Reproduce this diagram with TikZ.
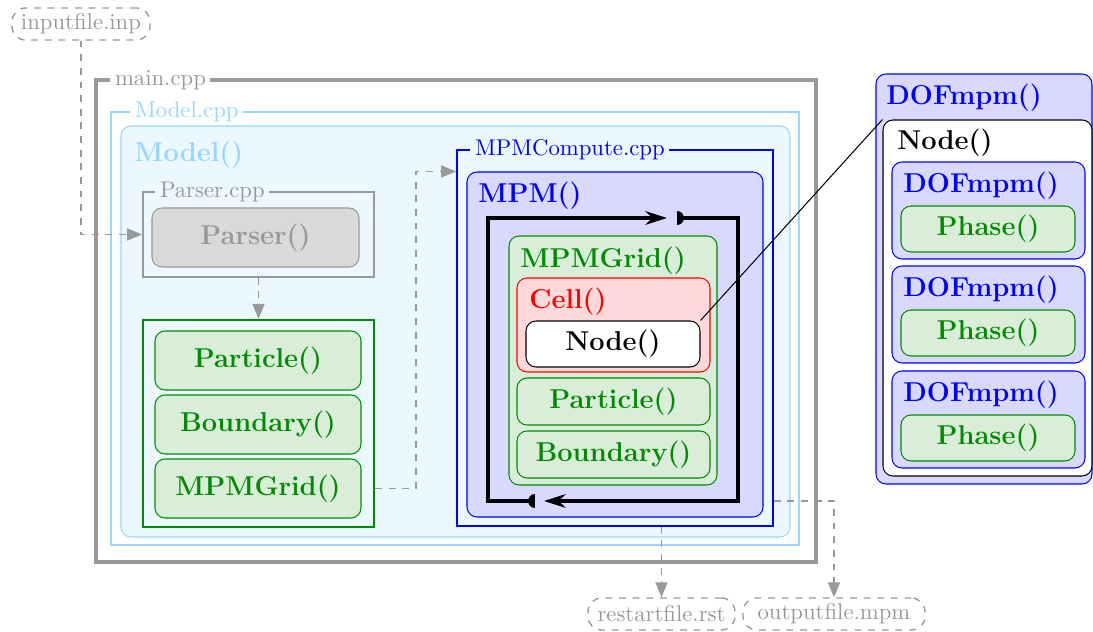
\documentclass[tikz,border=0pt]{standalone}
\usetikzlibrary{arrows.meta,fit}
\definecolor{modelblue}{RGB}{153,214,255}
\definecolor{modelfill}{RGB}{236,248,255}
\definecolor{mpmfill}{RGB}{217,217,255}
\definecolor{darkgreen}{RGB}{0,140,0}
\definecolor{greenfill}{RGB}{217,237,217}
\definecolor{cellfill}{RGB}{255,217,217}
\definecolor{filegray}{RGB}{153,153,153}
\definecolor{parserfill}{RGB}{217,217,217}
\tikzset{
  box/.style={draw,rounded corners=4.4pt,inner sep=0pt,line width=0.45pt},
  fntext/.style={font=\large\bfseries,inner sep=0pt},
  greenfn/.style={box,draw=darkgreen,fill=greenfill,label={[fntext,text=darkgreen]center:#1}},
  srcfile/.style={draw,inner sep=0pt,line width=0.75pt,line join=miter},
  ftag/.style={font=\normalsize,inner xsep=2pt,inner ysep=0pt,anchor=west},
  title/.style={font=\large\bfseries,inner sep=0pt,anchor=west},
  iofile/.style={draw=filegray,dashed,rounded corners=6pt,line width=0.6pt,inner sep=0pt,
    label={[text=filegray,inner sep=0pt]center:#1}},
  flow/.style={filegray,dashed,line width=0.6pt,-{Triangle[length=6.6pt,width=5.3pt]}},
  cycle/.style={line width=1.5pt,line join=miter,-{Stealth[length=9.5pt,width=6pt]}}
}
\begin{document}
\begin{tikzpicture}[x=0.44pt,y=-0.44pt,line join=round]
	\useasboundingbox (0,0) rectangle (1093,632);
	% files read and written
	\node[iofile=inputfile.inp,fit={(12,8) (150,40)}] (inp) {};
	\node[iofile=restartfile.rst,fit={(588,598) (735,630)}] (restart) {};
	\node[iofile=outputfile.mpm,fit={(743,598) (925,630)}] (output) {};
	% main.cpp and Model.cpp
	\node[srcfile,draw=filegray,line width=1.5pt,fit={(96,80) (816,562)}] (main) {};
	\node[ftag,fill=white,text=filegray] at (110,80) {main.cpp};
	\node[srcfile,draw=modelblue,fit={(111,112) (799,545)}] (modelfile) {};
	\node[ftag,fill=white,text=modelblue] at (130,112) {Model.cpp};
	\node[box,draw=modelblue,fill=modelfill,fit={(121,126) (790,537)}] (model) {};
	\node[title,text=modelblue] at (134,155) {Model()};
	% parser
	\node[srcfile,draw=filegray,fit={(143,192) (374,277)}] (parserfile) {};
	\node[ftag,fill=modelfill,text=filegray] at (155,192) {Parser.cpp};
	\node[box,draw=filegray,fill=parserfill,fit={(152,208) (359,267)},
		label={[fntext,text=filegray]center:Parser()}] (parser) {};
	\node[srcfile,draw=darkgreen,line width=1pt,fit={(143,320) (374,527)}] (mesh) {};
	\node[greenfn=Particle(),fit={(155,331) (361,390)}] (particle) {};
	\node[greenfn=Boundary(),fit={(155,395) (361,454)}] (boundary) {};
	\node[greenfn=MPMGrid(),fit={(155,459) (361,518)}] (grid) {};
	% MPMCompute.cpp
	\node[srcfile,draw=blue,fit={(457,150) (773,526)}] (computefile) {};
	\node[ftag,fill=modelfill,text=blue] at (470,150) {MPMCompute.cpp};
	\node[box,draw=blue,fill=mpmfill,fit={(467,172) (763,517)}] (mpm) {};
	\node[title,text=blue] at (478,196) {MPM()};
	\coordinate (ltl) at (488,218);
	\coordinate (ltr) at (738,218);
	\coordinate (lbr) at (738,501);
	\coordinate (lbl) at (488,501);
	\draw[cycle] (535,501) -- (lbl) -- (ltl) -- (667,218);
	\draw[cycle] (677,218) -- (ltr) -- (lbr) -- (544,501);
	\fill (677,211) .. controls (686,211) and (686,225) .. (677,225) -- cycle;
	\fill (535,494) .. controls (526,494) and (526,508) .. (535,508) -- cycle;
	\node[box,draw=darkgreen,fill=greenfill,fit={(509,236) (717,485)}] (mpmgrid) {};
	\node[title,text=darkgreen] at (520,261) {MPMGrid()};
	\node[box,draw=red,fill=cellfill,fit={(517,278) (710,372)}] (cell) {};
	\node[title,text=red] at (529,302) {Cell()};
	\node[box,draw=black,fill=white,fit={(526,321) (700,367)},
		label={[fntext]center:Node()}] (node) {};
	\node[greenfn=Particle(),fit={(517,378) (710,425)}] (gridparticle) {};
	\node[greenfn=Boundary(),fit={(517,431) (710,478)}] (gridboundary) {};
	% detail of one node
	\node[box,draw=blue,fill=mpmfill,fit={(876,74) (1092,484)}] (dof) {};
	\node[title,text=blue] at (886,98) {DOFmpm()};
	\node[box,draw=black,fill=white,fit={(883,120) (1092,476)}] (nodedetail) {};
	\node[title] at (897,143) {Node()};
	\foreach \top [count=\i] in {162,266,371}{
		\node[box,draw=blue,fill=mpmfill,fit={(892,\top) (1085,\top+97)}] (dof\i) {};
		\node[title,text=blue] at (903,\top+24) {DOFmpm()};
		\node[greenfn=Phase(),fit={(901,\top+44) (1075,\top+90)}] (phase\i) {};
	}
	% connectors
	\draw[flow] (inp.south) |- (parserfile.west);
	\draw[flow] (parserfile.south) -- (mesh.north);
	\draw[flow] (grid.east -| mesh.east) -- ++(41,0) |- (computefile.west |- mpm.north);
	\draw[flow] (restart.north |- computefile.south) -- (restart.north);
	\draw[flow] (computefile.east |- lbl) -| (output.north);
	\draw[line width=0.45pt] (node.north east) -- (nodedetail.north west);
\end{tikzpicture}
\end{document}
